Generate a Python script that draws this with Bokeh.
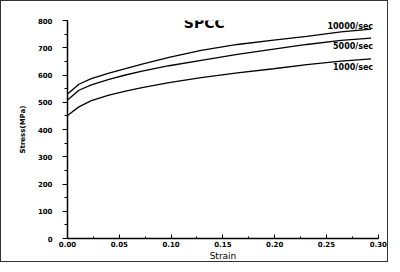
from bokeh.plotting import figure
from bokeh.models import Label, Range1d, SingleIntervalTicker, NumeralTickFormatter
from bokeh.embed import file_html
from bokeh.resources import INLINE

# Data
strain = [0.0, 0.011, 0.023, 0.040, 0.056, 0.072, 0.098, 0.129, 0.164, 0.199, 0.231, 0.264, 0.293]
stress_10000 = [530, 566, 587, 607, 623, 640, 665, 690, 712, 728, 742, 758, 768]
stress_5000 = [508, 544, 564, 584, 600, 614, 634, 654, 676, 695, 712, 727, 735]
stress_1000 = [451, 483, 506, 526, 541, 554, 572, 590, 608, 623, 638, 651, 659]
series_labels = ["10000/sec", "5000/sec", "1000/sec"]
label_y = [778, 703, 628]
title_text = "SPCC"

FONT = "DejaVu Sans"

p = figure(width=388, height=262, output_backend="svg", toolbar_location=None,
           x_range=Range1d(0, 0.3002), y_range=Range1d(0, 800),
           min_border_left=66, min_border_right=11, min_border_top=19,
           min_border_bottom=22)
p.styles = {"border": "1px solid #333333"}

p.xgrid.visible = False
p.ygrid.visible = False
p.outline_line_color = None
p.background_fill_color = "white"
p.border_fill_color = "white"

p.xaxis.ticker = SingleIntervalTicker(interval=0.05, num_minor_ticks=2)
p.yaxis.ticker = SingleIntervalTicker(interval=100, num_minor_ticks=2)
p.xaxis.formatter = NumeralTickFormatter(format="0.00")

for ax in (p.xaxis, p.yaxis):
    ax.axis_line_color = "black"
    ax.axis_line_width = 1.5
    ax.major_tick_line_color = "black"
    ax.minor_tick_line_color = "black"
    ax.major_label_text_font = FONT
    ax.major_label_text_font_style = "bold"
    ax.major_label_text_font_size = "7px"
    ax.major_label_text_color = "black"
    ax.axis_label_text_font = FONT
    ax.axis_label_text_color = "black"
    ax.axis_label_text_font_style = "normal"

p.xaxis.major_tick_in = 4
p.xaxis.major_tick_out = 0
p.xaxis.minor_tick_in = 2
p.xaxis.minor_tick_out = 0
p.xaxis.major_label_standoff = 2
p.xaxis.axis_label = "Strain"
p.xaxis.axis_label_text_font_size = "9px"
p.xaxis.axis_label_standoff = 1

p.yaxis.major_tick_in = 0
p.yaxis.major_tick_out = 5
p.yaxis.minor_tick_in = 0
p.yaxis.minor_tick_out = 3
p.yaxis.major_label_standoff = 10
p.yaxis.axis_label = "Stress(MPa)"
p.yaxis.axis_label_text_font_size = "7px"
p.yaxis.axis_label_text_font_style = "bold"
p.yaxis.axis_label_standoff = 8

for ys in (stress_10000, stress_5000, stress_1000):
    p.line(strain, ys, line_color="black", line_width=1.3)

for txt, yv in zip(series_labels, label_y):
    p.add_layout(Label(x=0.295, y=yv, text=txt, text_align="right",
                       text_baseline="middle", text_font=FONT,
                       text_font_style="bold", text_font_size="8px",
                       text_color="black"))

p.add_layout(Label(x=0.132, y=790, text=title_text, text_align="center",
                   text_baseline="middle", text_font=FONT,
                   text_font_style="bold", text_font_size="14px",
                   text_color="black"))

open("out.html", "w").write(file_html(p, INLINE))
